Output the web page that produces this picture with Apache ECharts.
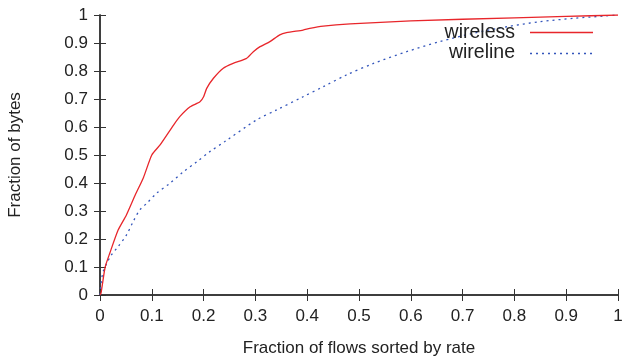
<!DOCTYPE html>
<html><head><meta charset="utf-8">
<script src="https://cdn.jsdelivr.net/npm/echarts@6/dist/echarts.min.js"></script>
<style>html,body{margin:0;padding:0;background:#fff}#c{width:626px;height:358px}</style>
</head><body><div id="c"></div>
<script>
var xTicks = [0,0.1,0.2,0.3,0.4,0.5,0.6,0.7,0.8,0.9,1];
var yTicks = [0,0.1,0.2,0.3,0.4,0.5,0.6,0.7,0.8,0.9,1];
var seriesNames = ['wireless','wireline'];
var wirelessX = [0,0.002,0.01,0.019,0.035,0.051,0.068,0.084,0.1,0.116,0.142,0.154,0.174,0.193,0.2,0.206,0.219,0.238,0.257,0.283,0.296,0.309,0.328,0.347,0.36,0.392,0.405,0.431,0.483,0.6,0.8,0.9,1];
var wirelessY = [0,0.007,0.1,0.15,0.232,0.286,0.357,0.42,0.5,0.536,0.607,0.637,0.672,0.69,0.708,0.738,0.774,0.81,0.827,0.845,0.869,0.887,0.905,0.929,0.937,0.946,0.952,0.96,0.968,0.979,0.99,0.995,1];
var wirelineX = [0,0.002,0.006,0.013,0.022,0.035,0.051,0.064,0.077,0.09,0.109,0.135,0.161,0.187,0.212,0.241,0.302,0.341,0.392,0.431,0.476,0.528,0.592,0.656,0.721,0.785,0.849,0.914,0.978,1];
var wirelineY = [0,0.042,0.083,0.113,0.143,0.173,0.214,0.262,0.304,0.327,0.363,0.399,0.44,0.476,0.512,0.548,0.625,0.661,0.708,0.744,0.786,0.827,0.869,0.905,0.935,0.958,0.976,0.988,0.997,1];

function pairs(xs, ys){ return xs.map(function(x,i){return [x, ys[i]];}); }
var FONT = '"Liberation Sans", Arial, sans-serif';
var chart = echarts.init(document.getElementById('c'));
var axisLine = {show:true, lineStyle:{color:'#333', width:1.5}};
var tick = {show:true, inside:true, length:6, lineStyle:{color:'#333', width:1}};
var lbl = {fontFamily:FONT, fontSize:17, color:'#222'};
function fmt(v){return String(Math.round(v*10)/10);}
chart.setOption({
  animation:false,
  grid:{left:100, right:8, top:15, bottom:63, containLabel:false, outerBoundsMode:'none'},
  xAxis:[
    {type:'value', min:0, max:1, interval:0.1, position:'bottom', axisLine:axisLine, axisTick:tick, splitLine:{show:false},
     axisLabel:Object.assign({margin:13, formatter:fmt}, lbl),
     name:'Fraction of flows sorted by rate', nameLocation:'middle', nameGap:45,
     nameTextStyle:{fontFamily:FONT, fontSize:17, color:'#222'}},
    {type:'value', min:0, max:1, interval:0.1, position:'top', axisLine:axisLine, axisTick:tick, axisLabel:{show:false}, splitLine:{show:false}}
  ],
  yAxis:[
    {type:'value', min:0, max:1, interval:0.1, position:'left', axisLine:axisLine, axisTick:tick, splitLine:{show:false},
     axisLabel:Object.assign({margin:12, formatter:fmt}, lbl),
     name:'Fraction of bytes', nameLocation:'middle', nameGap:76,
     nameTextStyle:{fontFamily:FONT, fontSize:17, color:'#222'}},
    {type:'value', min:0, max:1, interval:0.1, position:'right', axisLine:axisLine, axisTick:tick, axisLabel:{show:false}, splitLine:{show:false}}
  ],
  series:[
    {name:seriesNames[0], type:'line', data:pairs(wirelessX, wirelessY), showSymbol:false, smooth:0.2,
     lineStyle:{color:'#e8262b', width:1.3}, z:3},
    {name:seriesNames[1], type:'line', data:pairs(wirelineX, wirelineY), showSymbol:false, smooth:0.3,
     lineStyle:{color:'#3355bb', width:1.3, type:[2,4]}, z:2}
  ],
  graphic:[
    {type:'text', x:515, y:33, style:{text:seriesNames[0], fontFamily:FONT, fontSize:19.5, fill:'#222', align:'right', verticalAlign:'middle'}, z:10},
    {type:'text', x:515, y:53, style:{text:seriesNames[1], fontFamily:FONT, fontSize:19.5, fill:'#222', align:'right', verticalAlign:'middle'}, z:10},
    {type:'line', shape:{x1:530, y1:32.5, x2:593, y2:32.5}, style:{stroke:'#e8262b', lineWidth:1.3}, z:10},
    {type:'line', shape:{x1:530, y1:53.5, x2:593, y2:53.5}, style:{stroke:'#3355bb', lineWidth:1.3, lineDash:[2,4]}, z:10}
  ]
});
</script></body></html>
